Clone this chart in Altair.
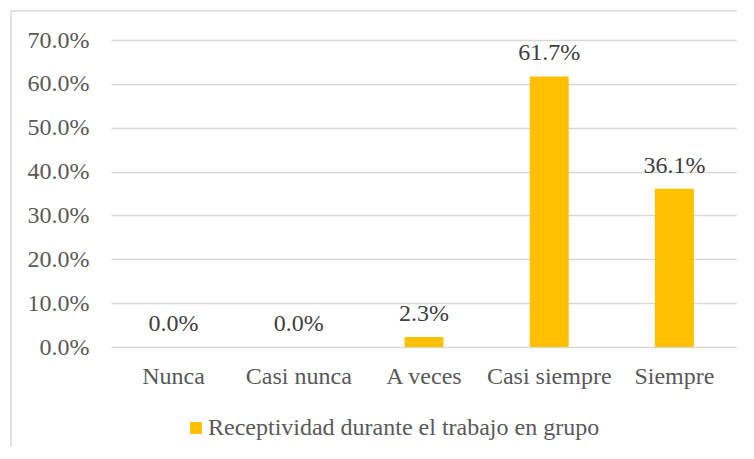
import altair as alt
import pandas as pd

categories = ["Nunca", "Casi nunca", "A veces", "Casi siempre", "Siempre"]
values = [0.0, 0.0, 0.023, 0.617, 0.361]
series_name = "Receptividad durante el trabajo en grupo"
y_ticks = [0.0, 0.1, 0.2, 0.3, 0.4, 0.5, 0.6, 0.7]

df = pd.DataFrame({"cat": categories, "val": values, "serie": [series_name] * len(categories)})

FONT = "Liberation Serif"
FS = 24

x_enc = alt.X("cat:N", sort=categories, title=None,
              scale=alt.Scale(paddingInner=0, paddingOuter=0),
              axis=alt.Axis(labelAngle=0, ticks=False, domain=False, labelPadding=17, grid=False))
y_scale = alt.Scale(domain=[0, 0.7], nice=False)

border = alt.Chart(pd.DataFrame({"a": [0]})).mark_rect(
    fill=None, stroke="#D9D9D9", strokeWidth=1.5, clip=False
).encode(x=alt.value(-100), x2=alt.value(640), y=alt.value(-29), y2=alt.value(420))

bars = alt.Chart(df).mark_bar(size=39).encode(
    x=x_enc,
    y=alt.Y("val:Q", scale=y_scale, title=None,
            axis=alt.Axis(values=y_ticks, format=".1%", ticks=False, domain=False, labelPadding=22,
                          grid=True, gridColor="#D9D9D9", gridWidth=1.3)),
    color=alt.Color("serie:N", scale=alt.Scale(domain=[series_name], range=["#FFC000"]),
                    legend=alt.Legend(title=None, orient="none", legendX=73, legendY=376,
                                      symbolType="square", symbolSize=144, symbolStrokeWidth=0,
                                      labelOffset=0, padding=0, labelLimit=600)),
)

labels = alt.Chart(df).mark_text(
    baseline="alphabetic", dy=-16, color="#404040"
).encode(
    x=alt.X("cat:N", sort=categories),
    y=alt.Y("val:Q", scale=y_scale),
    text=alt.Text("val:Q", format=".1%"),
)

chart = alt.layer(border, bars, labels).properties(
    width=626, height=307,
    autosize=alt.AutoSizeParams(type="none"),
    padding={"left": 103, "top": 32, "right": 0, "bottom": 100},
    background="white",
).configure_view(stroke=None).configure_axis(
    labelFont=FONT, labelFontSize=FS, labelColor="#595959"
).configure_text(
    font=FONT, fontSize=FS, color="#404040"
).configure_legend(
    labelFont=FONT, labelFontSize=FS, labelColor="#595959"
)

chart.save("out.html", embed_options={"renderer": "svg", "actions": False})
